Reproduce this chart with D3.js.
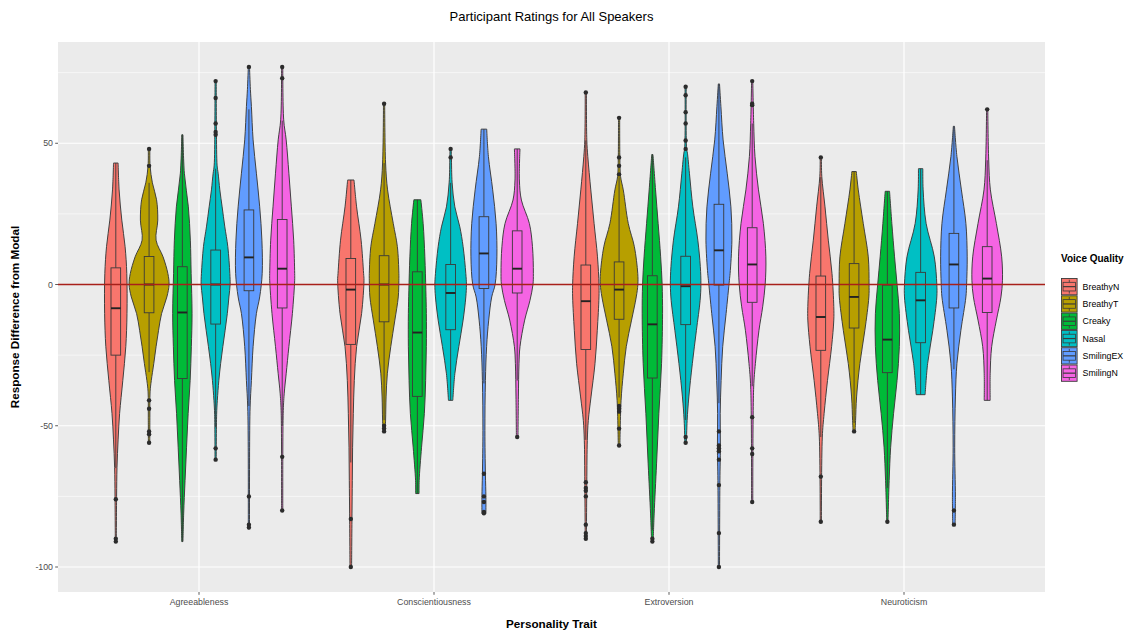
<!DOCTYPE html>
<html>
<head>
<meta charset="utf-8">
<script src="https://cdn.jsdelivr.net/npm/d3@7"></script>
<style>
  body { margin: 0; background: #fff; }
  svg { display: block; }
  text { font-family: "Liberation Sans", Arial, Helvetica, sans-serif; }
</style>
</head>
<body>
<svg id="chart" width="1130" height="633"></svg>
<script>
// ---- data ----
const traits = ["Agreeableness", "Conscientiousness", "Extroversion", "Neuroticism"];
const qualities = ["BreathyN", "BreathyT", "Creaky", "Nasal", "SmilingEX", "SmilingN"];
const palette = ["#F8766D", "#B79F00", "#00BA38", "#00BFC4", "#619CFF", "#F564E3"];
const yTicks = [-100, -50, 0, 50];
const yMinorTicks = [-75, -25, 25, 75];

// Box statistics: one row per trait, one column per voice quality
const q1 = [
  [-25, -10, -33.3, -14, -2.2, -8.3],
  [-21.2, -13.2, -39.6, -16, -1.4, -3],
  [-23, -12.3, -33.1, -14.2, -0.2, -6.3],
  [-23.3, -15.4, -31.2, -20.6, -8.3, -9.9]
];
const medians = [
  [-8.4, 0, -9.9, 0, 9.6, 5.6],
  [-1.8, 0, -17, -3, 11, 5.6],
  [-5.9, -1.8, -14.1, -0.6, 12.1, 7.1],
  [-11.5, -4.4, -19.5, -5.6, 7.1, 2.1]
];
const q3 = [
  [5.9, 9.9, 6.3, 12.2, 26.4, 23],
  [9.2, 10.2, 4.5, 7.1, 24, 19],
  [6.9, 8, 3.1, 10, 28.4, 20.1],
  [3, 7.4, -0.2, 4.3, 18.1, 13.4]
];
const whiskerLow = [
  [-65, -31, -91, -50.5, -43, -50],
  [-63, -48, -74, -41, -35, -34],
  [-55, -40, -87, -48, -42, -36],
  [-54, -49, -72, -39, -30, -41]
];
const whiskerHigh = [
  [43, 36, 53, 41, 62, 58],
  [37, 43, 30, 36, 55, 48],
  [51, 38, 46, 45, 71, 57],
  [38, 40, 33, 41, 56, 44]
];
const outliers = [
  [[-76, -90, -91], [42, 48, -41, -44, -52, -53, -56], [], [53, 54, 57, 66, 72, -58, -62],
   [77, -75, -85, -86], [73, 77, -61, -80]],
  [[-83, -100], [64, -50, -51, -52], [], [45, 48], [-67, -75, -77, -80.5, -81], [-54]],
  [[68, -70, -72, -73, -75, -85, -88, -89, -90], [39, 42, 45, 59, -43, -44, -45, -51, -57],
   [-90, -91], [48, 51, 57, 61, 67, 70, -54, -56], [-52, -57, -58, -59, -62, -71, -88, -100],
   [63.5, 64, 72, -47, -58, -60, -77]],
  [[45, -68, -84], [-52], [-84], [], [-80, -85], [62]]
];

// Violin outlines: [response, relative density], top to bottom
const agreeablenessDensity = [
  [[43,2.3],[33.5,3.3],[22.8,6],[13.4,9.3],[3.9,11],[-10.3,11.2],[-22,10],[-34,7],[-45.7,3.8],[-55,2.3],[-64.7,1.2],[-75,0.8],[-91,0.5]],
  [[48,0.8],[42,1],[36,3.3],[30,7.5],[22.8,8.7],[15.7,7],[9.8,14],[3.9,18.8],[0,20],[-4.4,17.8],[-10.3,12.5],[-16.2,9.5],[-22,7],[-28,4.7],[-34,2.2],[-38,1],[-47,0.8],[-56,0.7]],
  [[53,0.6],[39.4,2],[27.5,6],[15.7,8],[3.9,8.8],[-10.3,9.7],[-22,9],[-34,7.8],[-45.7,5.8],[-57.6,4.2],[-69.4,2.7],[-81.2,1.3],[-91,0.6]],
  [[72,0.6],[55,0.8],[42,1.5],[39.4,2.5],[33.5,4.2],[27.5,6.5],[20.4,9.2],[13.4,12.2],[3.9,14.2],[0,14.5],[-4.4,13.3],[-10.3,11.7],[-16.2,9.5],[-22,7.2],[-28,5],[-34,3.2],[-41,1.7],[-46,1],[-62,0.6]],
  [[77,0.6],[69,1.5],[63,2.5],[51.2,4.2],[39.4,7.5],[27.5,10.8],[15.7,13],[3.9,13.3],[-4.4,10.8],[-10.3,7.5],[-22,4.2],[-34,2.5],[-43.4,1.2],[-57.6,0.7],[-86.5,0.6]],
  [[77,0.6],[58.3,1.5],[51.2,4],[39.4,6.7],[27.5,9.2],[15.7,11.5],[3.9,12.5],[1.5,12.5],[-10.3,10.2],[-22,6.7],[-31.6,4],[-38.7,2],[-45.7,1],[-80,0.6]]
];
const conscientiousnessDensity = [
  [[37,3.2],[27.5,5.8],[15.7,10.3],[3.9,12.8],[1.5,13.2],[-10.3,10.8],[-22,5.8],[-34,3.5],[-45.7,2.5],[-57.6,1.8],[-69.4,1.5],[-81.2,1.2],[-100,0.8]],
  [[64,0.6],[43,1.5],[33.5,3.5],[21.6,9.2],[13.4,13.3],[3.9,14.8],[1.5,14.8],[-4.4,14.2],[-12.6,10.8],[-22,6.7],[-31.4,3.3],[-39.8,2],[-48,1.5],[-52,1]],
  [[30,3.5],[21.6,5.8],[9.8,7.5],[-2,8.5],[-10.3,9],[-22,9],[-34,8.3],[-45.7,7],[-57.6,4.2],[-69.4,1.8],[-74,1.7]],
  [[48,0.6],[45,0.8],[36,1.5],[27.5,4.2],[20.4,9.2],[13.4,12.5],[3.9,15.2],[0,15.8],[-4.4,15.2],[-12.6,12.5],[-22,8.2],[-31.6,4.2],[-41,2.2]],
  [[55,2.8],[45.3,4.5],[33.5,8.8],[21.6,12.2],[9.8,13],[0,11.2],[-4.4,7.8],[-12.6,4.8],[-22,2.7],[-34,1.5],[-51.7,1],[-67,1.5],[-75.3,2],[-81,2]],
  [[48,2.8],[37,2.2],[29.9,4.2],[21.6,12.2],[13.4,15.3],[3.9,16.2],[0,15.8],[-5.6,12.8],[-12.6,7.5],[-22,2.8],[-28,1.8],[-39.8,1.2],[-54,0.8]]
];
const extroversionDensity = [
  [[68,0.6],[51.2,1],[45.3,2],[33.5,5],[21.6,8.3],[9.8,11.7],[0,13.2],[-4.4,13.2],[-16.2,11.5],[-28,9.2],[-39.8,5.2],[-48.1,2.5],[-55.2,1.5],[-70,1],[-90,0.6]],
  [[59,0.6],[45,0.8],[38.2,1.5],[33.5,4.2],[21.6,9.2],[13.4,15.3],[3.9,18.7],[0,18.8],[-4.4,17.2],[-12.6,12.5],[-22,7.2],[-31.6,4.2],[-41,2],[-57,0.8]],
  [[46,0.6],[33.5,3.2],[21.6,5.8],[9.8,8.3],[0,9.8],[-10.3,10.2],[-28,9.2],[-45.7,6.5],[-63.5,4.2],[-81.2,1.8],[-91,0.8]],
  [[70,0.6],[48,1],[46.5,1.8],[39.4,3.8],[27.5,7.2],[15.7,12.2],[6.3,14.7],[0,15.3],[-5.6,14.5],[-16.2,10.8],[-28,6.7],[-39.8,3.2],[-48.1,1.5],[-56,0.8]],
  [[71,0.6],[63,2],[51.2,4.2],[39.4,8.3],[27.5,12],[15.7,13],[3.9,11.2],[1.5,10.5],[-10.3,7.2],[-22,3.8],[-34,2.2],[-45.7,1.3],[-57.6,1.5],[-69.4,1],[-100,0.6]],
  [[72,0.6],[57.1,1.5],[45.3,2.8],[33.5,6.3],[21.6,11.2],[9.8,13.7],[0,13],[-7.9,10.5],[-16.2,6.8],[-28,3.2],[-36.3,1.5],[-77,0.6]]
];
const neuroticismDensity = [
  [[45,0.6],[38.2,1],[27.5,4.2],[15.7,7.5],[3.9,11.2],[-7.8,13],[-12.6,13],[-22,10.8],[-34,6.7],[-45.7,3.3],[-54,1.5],[-84,0.6]],
  [[40,2.2],[33.5,4.2],[21.6,9.2],[9.8,14.2],[0,15],[-4.4,14.8],[-16.2,10.8],[-28,5.8],[-39.8,2.5],[-48.1,1.5],[-52,1]],
  [[33,2.2],[21.6,4.5],[9.8,7.2],[0,9.7],[-10.3,12],[-22,12],[-34,9.7],[-45.7,6.2],[-57.6,3.3],[-69.4,1.8],[-84,0.6]],
  [[41,2.2],[33.5,2.5],[21.6,5.5],[9.8,13.7],[0,16.2],[-4.4,16.2],[-16.2,12.2],[-28,7],[-39,4.5]],
  [[56,0.6],[45.3,3],[33.5,7.5],[21.6,12],[9.8,13.3],[0,12.7],[-4.4,12],[-16.2,7],[-28,3],[-39.8,1.5],[-57.6,0.8],[-75.3,1.5],[-85,1.2]],
  [[62,0.6],[44.1,1.5],[33.5,3.2],[21.6,9.2],[9.8,14.5],[1.5,15.3],[-4.4,13.8],[-12.6,9.2],[-22,4.5],[-31.6,3],[-41,3]]
];
const densities = [agreeablenessDensity, conscientiousnessDensity, extroversionDensity, neuroticismDensity];

// ---- layout ----
const W = 1130, H = 633;
const panel = { left: 58, right: 1045, top: 42, bottom: 592 };
const ink = "#3a3a3a";
const svg = d3.select("#chart");
svg.append("rect").attr("width", W).attr("height", H).attr("fill", "#fff");

const allValues = densities.flat(2).map(d => d[0]);
const [lo, hi] = d3.extent(allValues);
const pad = (hi - lo) * 0.05;
const y = d3.scaleLinear().domain([lo - pad, hi + pad]).range([panel.bottom, panel.top]);
const x = d3.scalePoint().domain(traits).range([panel.left, panel.right]).padding(0.6);
const step = x.step();
const dodge = d3.scalePoint().domain(qualities).range([-step * 0.354, step * 0.354]);
const maxDensity = d3.max(densities.flat(2), d => d[1]);
const halfWidth = d3.scaleLinear().domain([0, maxDensity]).range([0, step * 0.085]);
const boxHalf = step * 0.0205;
const colour = d3.scaleOrdinal().domain(qualities).range(palette);

// panel background and grid
svg.append("rect")
  .attr("x", panel.left).attr("y", panel.top)
  .attr("width", panel.right - panel.left).attr("height", panel.bottom - panel.top)
  .attr("fill", "#EBEBEB");
const grid = svg.append("g");
grid.selectAll(".minor").data(yMinorTicks).join("line")
  .attr("x1", panel.left).attr("x2", panel.right)
  .attr("y1", d => y(d)).attr("y2", d => y(d))
  .attr("stroke", "#fff").attr("stroke-width", 0.6);
grid.selectAll(".major").data(yTicks).join("line")
  .attr("x1", panel.left).attr("x2", panel.right)
  .attr("y1", d => y(d)).attr("y2", d => y(d))
  .attr("stroke", "#fff").attr("stroke-width", 1.2);
grid.selectAll(".vmajor").data(traits).join("line")
  .attr("x1", d => x(d)).attr("x2", d => x(d))
  .attr("y1", panel.top).attr("y2", panel.bottom)
  .attr("stroke", "#fff").attr("stroke-width", 1.2);

// one record per trait x voice quality
const groups = [];
traits.forEach((t, ti) => qualities.forEach((q, qi) => {
  groups.push({
    trait: t, quality: q, cx: x(t) + dodge(q),
    shape: densities[ti][qi],
    q1: q1[ti][qi], med: medians[ti][qi], q3: q3[ti][qi],
    wlo: whiskerLow[ti][qi], whi: whiskerHigh[ti][qi],
    out: outliers[ti][qi]
  });
}));

// violins
const violins = svg.append("g");
groups.forEach(g => {
  const area = d3.area()
    .y(d => y(d[0]))
    .x0(d => g.cx - halfWidth(d[1]))
    .x1(d => g.cx + halfWidth(d[1]))
    .curve(d3.curveCatmullRom.alpha(0.5));
  violins.append("path")
    .attr("d", area(g.shape))
    .attr("fill", colour(g.quality))
    .attr("stroke", ink)
    .attr("stroke-width", 0.95)
    .attr("stroke-linejoin", "round");
});

// boxplots
const boxes = svg.append("g");
groups.forEach(g => {
  const b = boxes.append("g");
  b.append("line").attr("x1", g.cx).attr("x2", g.cx)
    .attr("y1", y(g.q3)).attr("y2", y(g.whi))
    .attr("stroke", ink).attr("stroke-width", 0.9);
  b.append("line").attr("x1", g.cx).attr("x2", g.cx)
    .attr("y1", y(g.q1)).attr("y2", y(g.wlo))
    .attr("stroke", ink).attr("stroke-width", 0.9);
  b.append("rect")
    .attr("x", g.cx - boxHalf).attr("width", boxHalf * 2)
    .attr("y", y(g.q3)).attr("height", y(g.q1) - y(g.q3))
    .attr("fill", colour(g.quality))
    .attr("stroke", ink).attr("stroke-width", 0.9);
  b.append("line").attr("x1", g.cx - boxHalf).attr("x2", g.cx + boxHalf)
    .attr("y1", y(g.med)).attr("y2", y(g.med))
    .attr("stroke", "#222").attr("stroke-width", 1.9);
});

// outlying responses
const pts = svg.append("g");
groups.forEach(g => {
  pts.selectAll(null).data(g.out).join("circle")
    .attr("cx", g.cx).attr("cy", d => y(d)).attr("r", 2.2)
    .attr("fill", "#2b2b2b");
});

// reference line at zero difference
svg.append("line")
  .attr("x1", panel.left).attr("x2", panel.right)
  .attr("y1", y(0)).attr("y2", y(0))
  .attr("stroke", "#A8201A").attr("stroke-width", 1.4);

// axes
const yAxis = svg.append("g");
yTicks.forEach(t => {
  yAxis.append("line").attr("x1", panel.left - 2.8).attr("x2", panel.left)
    .attr("y1", y(t)).attr("y2", y(t)).attr("stroke", "#333").attr("stroke-width", 0.8);
  yAxis.append("text").attr("x", panel.left - 5).attr("y", y(t))
    .attr("dy", "0.35em").attr("text-anchor", "end")
    .attr("font-size", 8.8).attr("fill", "#4D4D4D").text(t);
});
const xAxis = svg.append("g");
traits.forEach(t => {
  xAxis.append("line").attr("x1", x(t)).attr("x2", x(t))
    .attr("y1", panel.bottom).attr("y2", panel.bottom + 2.8)
    .attr("stroke", "#333").attr("stroke-width", 0.8);
  xAxis.append("text").attr("x", x(t)).attr("y", panel.bottom + 12.5)
    .attr("text-anchor", "middle").attr("font-size", 8.8).attr("fill", "#4D4D4D").text(t);
});

// titles
const midX = (panel.left + panel.right) / 2;
svg.append("text").attr("x", midX).attr("y", 21)
  .attr("text-anchor", "middle").attr("font-size", 13).attr("fill", "#000")
  .text("Participant Ratings for All Speakers");
svg.append("text").attr("x", midX).attr("y", 628)
  .attr("text-anchor", "middle").attr("font-size", 11.7).attr("font-weight", "bold")
  .attr("fill", "#000").text("Personality Trait");
svg.append("text")
  .attr("transform", `translate(19,${(panel.top + panel.bottom) / 2}) rotate(-90)`)
  .attr("text-anchor", "middle").attr("font-size", 11.7).attr("font-weight", "bold")
  .attr("fill", "#000").text("Response Difference from Modal");

// legend
const legend = svg.append("g").attr("transform", "translate(1061,0)");
legend.append("text").attr("x", 0).attr("y", 262)
  .attr("font-size", 10).attr("font-weight", "bold").attr("fill", "#000").text("Voice Quality");
const keyW = 16.6, keyH = 17.3, keyTop = 278;
qualities.forEach((q, i) => {
  const k = legend.append("g").attr("transform", `translate(0,${keyTop + i * keyH})`);
  k.append("rect").attr("x", 0.5).attr("y", 0.5).attr("width", keyW - 1).attr("height", keyH - 1)
    .attr("fill", colour(q)).attr("stroke", ink).attr("stroke-width", 0.9);
  k.append("line").attr("x1", keyW / 2).attr("x2", keyW / 2).attr("y1", keyH * 0.1).attr("y2", keyH * 0.9)
    .attr("stroke", ink).attr("stroke-width", 0.8);
  k.append("rect").attr("x", keyW * 0.125).attr("y", keyH * 0.25)
    .attr("width", keyW * 0.75).attr("height", keyH * 0.5)
    .attr("fill", colour(q)).attr("stroke", ink).attr("stroke-width", 0.8);
  k.append("line").attr("x1", keyW * 0.125).attr("x2", keyW * 0.875)
    .attr("y1", keyH / 2).attr("y2", keyH / 2).attr("stroke", ink).attr("stroke-width", 1.2);
  k.append("text").attr("x", keyW + 5).attr("y", keyH / 2).attr("dy", "0.35em")
    .attr("font-size", 8.8).attr("fill", "#000").text(q);
});
</script>
</body>
</html>
